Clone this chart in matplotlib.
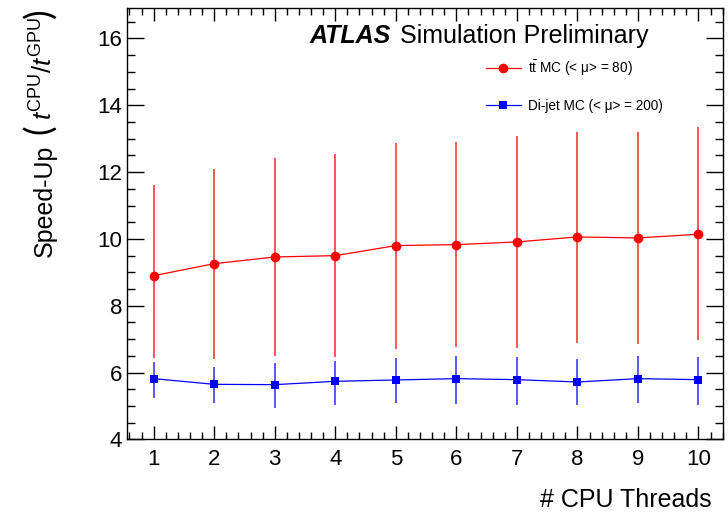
import matplotlib
matplotlib.use('Agg')
import matplotlib.pyplot as plt
from matplotlib.lines import Line2D
from matplotlib.ticker import MultipleLocator

plt.rcParams['font.family'] = ['Liberation Sans', 'DejaVu Sans']
plt.rcParams['mathtext.fontset'] = 'custom'
plt.rcParams['mathtext.rm'] = 'Liberation Sans'
plt.rcParams['mathtext.it'] = 'Liberation Sans:italic'
plt.rcParams['mathtext.bf'] = 'Liberation Sans:bold'

# ---- data ----
threads = [1, 2, 3, 4, 5, 6, 7, 8, 9, 10]
ttbar_speedup = [8.90, 9.26, 9.46, 9.50, 9.80, 9.83, 9.91, 10.06, 10.03, 10.14]
ttbar_err_lo = [2.46, 2.85, 2.96, 3.03, 3.10, 3.05, 3.18, 3.16, 3.16, 3.16]
ttbar_err_hi = [2.70, 2.83, 2.96, 3.03, 3.08, 3.07, 3.16, 3.15, 3.18, 3.21]
dijet_speedup = [5.82, 5.65, 5.64, 5.74, 5.78, 5.82, 5.79, 5.72, 5.82, 5.79]
dijet_err_lo = [0.57, 0.55, 0.69, 0.70, 0.68, 0.75, 0.75, 0.68, 0.72, 0.75]
dijet_err_hi = [0.51, 0.53, 0.66, 0.62, 0.66, 0.68, 0.68, 0.69, 0.68, 0.68]

ttbar_label = r"$\mathrm{t}\bar{\mathrm{t}}$ MC (< μ> = 80)"
dijet_label = "Di-jet MC (< μ> = 200)"

W, H = 728, 516
fig = plt.figure(figsize=(7.28, 5.16), dpi=100)
ax = fig.add_axes([0.1749, 0.1483, 0.8178, 0.8356])

red = '#ff0000'
blue = '#0000ff'

ax.errorbar(threads, ttbar_speedup, yerr=[ttbar_err_lo, ttbar_err_hi], fmt='none',
            ecolor='#ff3b3b', elinewidth=1.2, capsize=0, zorder=2)
ax.plot(threads, ttbar_speedup, color=red, lw=0.9, marker='o', ms=7,
        markeredgewidth=0, zorder=3)
ax.errorbar(threads, dijet_speedup, yerr=[dijet_err_lo, dijet_err_hi], fmt='none',
            ecolor='#3b3bff', elinewidth=1.2, capsize=0, zorder=2)
ax.plot(threads, dijet_speedup, color=blue, lw=0.9, marker='s', ms=5.8,
        markeredgewidth=0, zorder=3)

ax.set_xlim(0.565, 10.4)
ax.set_ylim(4, 16.9)
ax.xaxis.set_major_locator(MultipleLocator(1))
ax.xaxis.set_minor_locator(MultipleLocator(0.2))
ax.yaxis.set_major_locator(MultipleLocator(2))
ax.yaxis.set_minor_locator(MultipleLocator(0.5))

ax.tick_params(axis='both', which='both', direction='in', top=True, right=True,
               width=1, colors='black')
ax.tick_params(axis='x', which='major', length=9.5, pad=6.5, labelsize=16)
ax.tick_params(axis='x', which='minor', length=5)
ax.tick_params(axis='y', which='major', length=12, pad=3.6, labelsize=16)
ax.tick_params(axis='y', which='minor', length=6)
for s in ax.spines.values():
    s.set_linewidth(1)

fig.text(712/W, 1 - 500/H, "# CPU Threads", ha='right', va='center', fontsize=18)

# y-axis title, assembled from pieces (rotated)
fig.text(45/W, 1 - 257/H, "Speed-Up", rotation=90, ha='center', va='bottom', fontsize=18)
fig.text(40/W, 1 - 129/H, "(", rotation=90, ha='center', va='center', fontsize=26,
         family='Lato', fontweight='normal')
fig.text(44/W, 1 - 120/H, r"$t^{\mathrm{CPU}}/t^{\mathrm{GPU}}$", rotation=90,
         ha='center', va='bottom', fontsize=18.5)
fig.text(40/W, 1 - 13/H, ")", rotation=90, ha='center', va='center', fontsize=26,
         family='Lato', fontweight='normal')

fig.text(310/W, 1 - 43/H, "ATLAS", fontsize=18, fontweight='bold',
         fontstyle='italic', va='baseline', ha='left')
fig.text(400/W, 1 - 43/H, "Simulation Preliminary", fontsize=18,
         va='baseline', ha='left')

handles = [Line2D([], [], color=red, lw=0.9, marker='o', ms=7, markeredgewidth=0),
           Line2D([], [], color=blue, lw=0.9, marker='s', ms=5.8, markeredgewidth=0)]
fig.legend(handles, [ttbar_label, dijet_label], loc='upper left',
           bbox_to_anchor=(486/W, 1 - 58/H), frameon=False, fontsize=9.8,
           borderpad=0, borderaxespad=0, handlelength=2.55, handletextpad=0.5,
           labelspacing=1.55)

fig.savefig('out.png', dpi=100)
